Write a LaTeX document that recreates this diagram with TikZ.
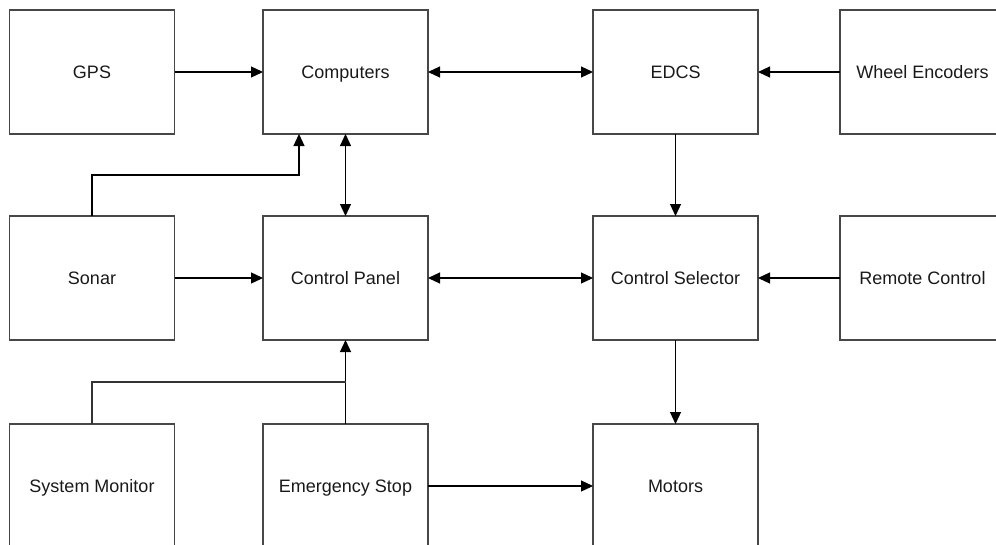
\documentclass[tikz,border=0pt]{standalone}
\usepackage{fontspec}
\setmainfont{Liberation Sans}
\usetikzlibrary{arrows.meta}
\begin{document}
\begin{tikzpicture}[x=1pt,y=-1pt,
  blk/.style={draw=black!72,line width=1.2pt,minimum width=165pt,minimum height=124pt,
    inner sep=0pt,outer sep=0pt,text height=13pt,text depth=0pt,
    font=\fontsize{18}{21}\selectfont,text=black!90},
  arr/.style={draw=black,line width=1.2pt,-{Triangle[length=12pt,width=11pt]}},
  both/.style={draw=black,line width=1.2pt,{Triangle[length=12pt,width=11pt]}-{Triangle[length=12pt,width=11pt]}},
  ln/.style={draw=black!80,line width=1.2pt}]
\useasboundingbox (0,0) rectangle (996,544);
\node[blk] (gps)  at (92,72) {GPS};
\node[blk] (comp) at (345.5,72) {Computers};
\node[blk] (edcs) at (675.5,72) {EDCS};
\node[blk] (wheel) at (922.5,72) {Wheel Encoders};
\node[blk] (sonar) at (92,278) {Sonar};
\node[blk] (panel) at (345.5,278) {Control Panel};
\node[blk] (sel) at (675.5,278) {Control Selector};
\node[blk] (remote) at (922.5,278) {Remote Control};
\node[blk] (mon) at (92,486) {System Monitor};
\node[blk] (stop) at (345.5,486) {Emergency Stop};
\node[blk] (motors) at (675.5,486) {Motors};
\coordinate (cin) at ([xshift=-46.5pt]comp.south);
\coordinate (sbend) at ([yshift=41pt]sonar.north);
\coordinate (mbend) at ([yshift=42pt]mon.north);
\draw[arr] (gps) -- (comp);
\draw[both] (comp) -- (edcs);
\draw[arr] (wheel) -- (edcs);
\draw[arr] (sonar.north) -- (sbend) -| (cin);
\draw[both] (comp) -- (panel);
\draw[arr] (sonar) -- (panel);
\draw[both] (panel) -- (sel);
\draw[arr] (remote) -- (sel);
\draw[arr] (edcs) -- (sel);
\draw[arr] (sel) -- (motors);
\draw[arr] (stop) -- (panel);
\draw[ln] (mon.north) -- (mbend) -| (stop.north |- mbend);
\draw[arr] (stop) -- (motors);
\end{tikzpicture}
\end{document}
